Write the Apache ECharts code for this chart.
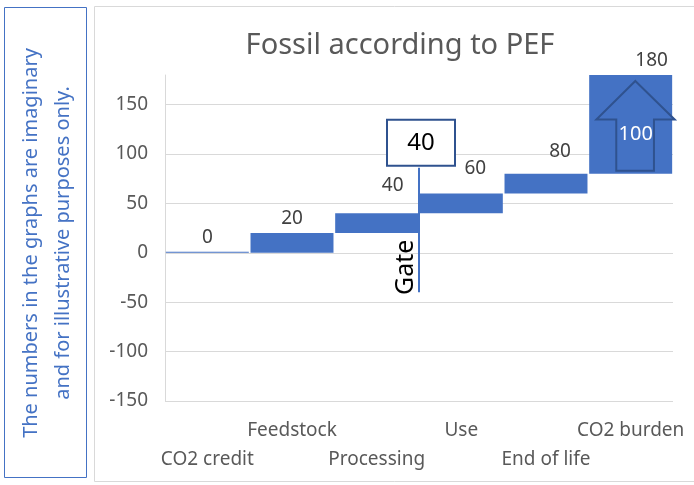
<!DOCTYPE html>
<html>
<head>
<meta charset="utf-8">
<script src="https://cdn.jsdelivr.net/npm/echarts@6/dist/echarts.min.js"></script>
<style>
  html, body { margin: 0; padding: 0; background: #fff; }
  #chart { width: 694px; height: 485px; }
</style>
</head>
<body>
<div id="chart"></div>
<script>
// waterfall data
const categories = ['CO2 credit', 'Feedstock', 'Processing', 'Use', 'End of life', 'CO2 burden'];
const baseValues = [0, 0, 20, 40, 60, 80];
const stepValues = [0, 20, 20, 20, 20, 100];
const totalLabels = [0, 20, 40, 60, 80, 180];
const yMin = -150, yMax = 180, yStep = 50;
// gate marker sits after "Processing"
const gateIndex = 2;
const gateRange = [-40, 86];
const gateValue = '40';
const gateText = 'Gate';
const noteLines = ['The numbers in the graphs are imaginary', 'and for illustrative purposes only.'];

const blue = '#4472c4';
const darkBlue = '#2f528f';
const font = 'Noto Sans';

// nudges for the value labels, same as in the slide
const labelOffsets = [[0, 0], [0, 0], [16, -13], [14, -10], [14, -8], [21, 0]];

let chart = echarts.init(document.getElementById('chart'));

chart.setOption({
    animation: false,
    textStyle: { fontFamily: font },
    title: {
        text: 'Fossil according to PEF',
        left: 395,
        textAlign: 'center',
        top: 26,
        textStyle: { fontSize: 29, fontWeight: 'normal', color: '#595959', fontFamily: font }
    },
    grid: { left: 165, right: 21, top: 75, bottom: 84 },
    graphic: [
        {
            type: 'rect', silent: true,
            shape: { x: 94.5, y: 6.5, width: 610, height: 475 },
            style: { fill: null, stroke: '#d9d9d9', lineWidth: 1 }
        },
        {
            type: 'rect', silent: true,
            shape: { x: 4.5, y: 7.5, width: 82, height: 470 },
            style: { fill: '#fff', stroke: blue, lineWidth: 1 }
        },
        {
            type: 'text', silent: true,
            x: 47, y: 243, rotation: Math.PI / 2,
            style: {
                text: noteLines.join('\n'),
                fill: blue, fontSize: 20, fontFamily: font,
                align: 'center', verticalAlign: 'middle', lineHeight: 32
            }
        }
    ],
    xAxis: {
        type: 'category',
        data: categories,
        axisLine: { show: false },
        axisTick: { show: false },
        splitLine: { show: false },
        axisLabel: {
            interval: 0,
            margin: 15,
            color: '#595959',
            fontSize: 19,
            lineHeight: 29,
            verticalAlign: 'top',
            formatter: (v, i) => (i % 2 ? v : '\n' + v)
        }
    },
    yAxis: {
        type: 'value',
        min: yMin, max: yMax, interval: yStep,
        axisLine: { show: true, lineStyle: { color: '#d9d9d9' } },
        axisTick: { show: false },
        axisLabel: {
            margin: 17, color: '#595959', fontSize: 19,
            formatter: v => (v > 150 ? '' : v)
        },
        splitLine: {
            lineStyle: {
                color: ['#d9d9d9', '#d9d9d9', '#d9d9d9', '#d9d9d9', '#d9d9d9', '#d9d9d9', '#d9d9d9', 'rgba(0,0,0,0)']
            }
        }
    },
    series: [
        {
            type: 'bar',
            stack: 'fall',
            silent: true,
            barCategoryGap: '2%',
            itemStyle: { color: 'transparent' },
            data: baseValues
        },
        {
            type: 'bar',
            stack: 'fall',
            barCategoryGap: '2%',
            barMinHeight: 1,
            itemStyle: { color: blue },
            label: {
                show: true,
                position: 'top',
                distance: 5,
                color: '#404040',
                fontSize: 19,
                formatter: p => totalLabels[p.dataIndex]
            },
            data: stepValues.map((v, i) => ({ value: v, label: { offset: labelOffsets[i] } }))
        },
        {
            // arrow on the last bar, with the step value inside
            type: 'custom',
            silent: true,
            z: 5,
            data: [[categories.length - 1, baseValues[5], baseValues[5] + stepValues[5]]],
            encode: { x: 0, y: [1, 2] },
            renderItem: function (params, api) {
                let band = api.size([1, 0])[0];
                let c = api.coord([api.value(0), 0])[0];
                let lo = api.value(1), hi = api.value(2);
                let span = hi - lo;
                let yTip = api.coord([0, lo + span * 0.94])[1];
                let yWing = api.coord([0, lo + span * 0.55])[1];
                let yBot = api.coord([0, lo + span * 0.03])[1];
                let yTxt = api.coord([0, lo + span * 0.40])[1];
                let pts = [
                    [c + band * 0.055, yTip],
                    [c + band * 0.52, yWing],
                    [c + band * 0.275, yWing],
                    [c + band * 0.275, yBot],
                    [c - band * 0.17, yBot],
                    [c - band * 0.17, yWing],
                    [c - band * 0.405, yWing]
                ];
                return {
                    type: 'group',
                    children: [
                        {
                            type: 'polygon',
                            shape: { points: pts },
                            style: { fill: blue, stroke: darkBlue, lineWidth: 2 }
                        },
                        {
                            type: 'text',
                            x: c + band * 0.06, y: yTxt,
                            style: {
                                text: String(stepValues[api.value(0)]),
                                fill: '#fff', fontSize: 20, fontFamily: font,
                                align: 'center', verticalAlign: 'middle'
                            }
                        }
                    ]
                };
            }
        },
        {
            // gate line between processing and use
            type: 'custom',
            silent: true,
            z: 6,
            data: [[gateIndex, gateRange[0], gateRange[1]]],
            encode: { x: 0, y: [1, 2] },
            renderItem: function (params, api) {
                let band = api.size([1, 0])[0];
                let p0 = api.coord([api.value(0), api.value(1)]);
                let p1 = api.coord([api.value(0), api.value(2)]);
                let x = p0[0] + band / 2;
                return {
                    type: 'group',
                    children: [
                        {
                            type: 'line',
                            shape: { x1: x, y1: p0[1], x2: x, y2: p1[1] },
                            style: { stroke: blue, lineWidth: 2 }
                        },
                        {
                            type: 'rect',
                            shape: { x: x - 32, y: p1[1] - 48, width: 68, height: 46 },
                            style: { fill: '#fff', stroke: darkBlue, lineWidth: 2 }
                        },
                        {
                            type: 'text',
                            x: x + 2, y: p1[1] - 25,
                            style: {
                                text: gateValue, fill: '#000', fontSize: 24, fontFamily: font,
                                align: 'center', verticalAlign: 'middle'
                            }
                        },
                        {
                            type: 'text',
                            x: x - 13, y: p0[1] - 25,
                            rotation: Math.PI / 2,
                            style: {
                                text: gateText, fill: '#000', fontSize: 25, fontFamily: font,
                                align: 'center', verticalAlign: 'middle'
                            }
                        }
                    ]
                };
            }
        }
    ]
});
</script>
</body>
</html>
